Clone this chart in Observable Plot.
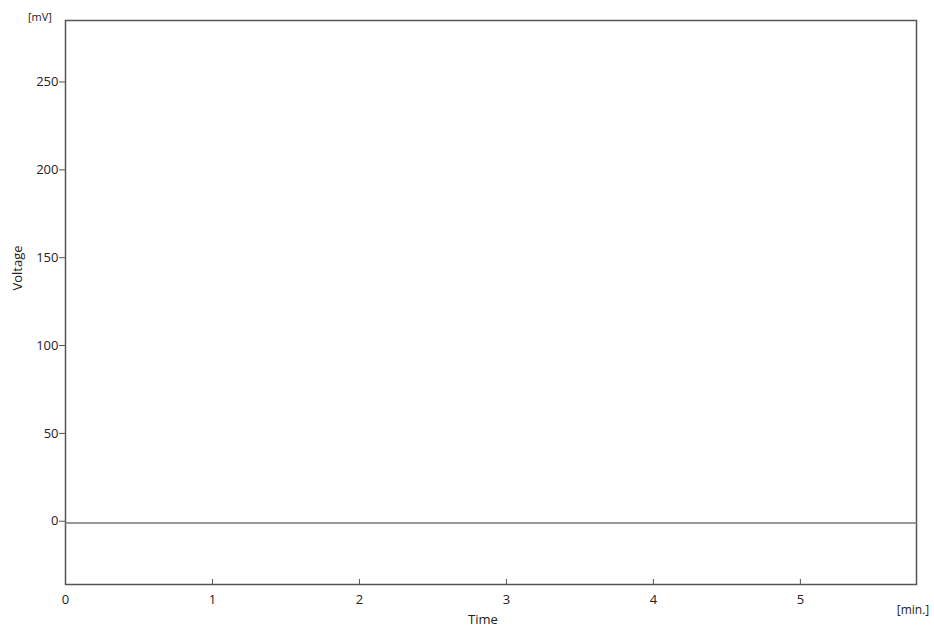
<!DOCTYPE html>
<html>
<head>
<meta charset="utf-8">
<script src="https://cdn.jsdelivr.net/npm/d3@7"></script>
<script src="https://cdn.jsdelivr.net/npm/@observablehq/plot@0.6"></script>
<style>
  body { margin: 0; background: #fff; }
  svg { font-family: "Open Sans", "DejaVu Sans", sans-serif; }
</style>
</head>
<body>
<div id="chart"></div>
<script>
// signal trace (min, mV)
const time = [0, 5.79];
const voltage = [-1, -1];
const xTicks = [0, 1, 2, 3, 4, 5];
const yTicks = [0, 50, 100, 150, 200, 250];

const data = time.map((t, i) => ({t, v: voltage[i]}));
const W = 934, H = 628;
const mL = 65, mR = 18, mT = 20, mB = 44;

const chart = Plot.plot({
  width: W,
  height: H,
  marginLeft: mL,
  marginRight: mR,
  marginTop: mT,
  marginBottom: mB,
  style: {fontSize: "13px", color: "#222"},
  x: {domain: [0, 5.79], ticks: xTicks, label: null},
  y: {domain: [-36, 285], ticks: yTicks, label: null},
  marks: [
    Plot.frame({stroke: "#555", strokeWidth: 1.5}),
    Plot.axisY(yTicks, {tickSize: 6, tickPadding: 1, stroke: "#555"}),
    Plot.axisX(xTicks, {tickSize: -5, tickPadding: 15, tickFormat: "d", stroke: "#555"}),
    Plot.line(data, {x: "t", y: "v", stroke: "#777", strokeWidth: 1.5})
  ]
});

const svg = d3.select(chart);
svg.append("text").attr("x", 40).attr("y", 21).attr("text-anchor", "middle")
  .attr("font-size", 11).text("[mV]");
svg.append("text").attr("transform", "translate(22,268) rotate(-90)")
  .attr("text-anchor", "middle").attr("font-size", 13).text("Voltage");
svg.append("text").attr("x", 483).attr("y", 624).attr("text-anchor", "middle")
  .attr("font-size", 13).text("Time");
svg.append("text").attr("x", 913).attr("y", 614).attr("text-anchor", "middle")
  .attr("font-size", 12).text("[min.]");

document.getElementById("chart").appendChild(chart);
</script>
</body>
</html>
